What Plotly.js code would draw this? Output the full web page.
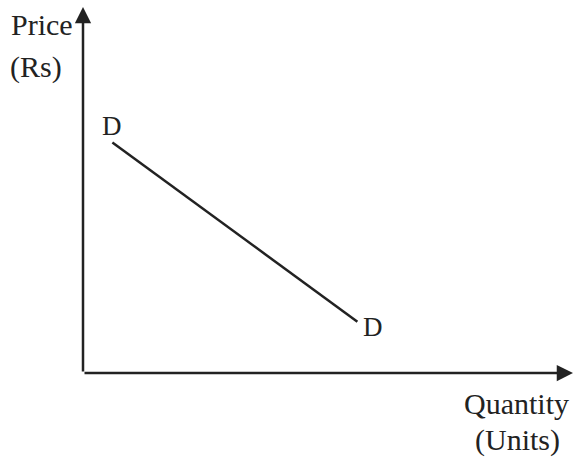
<!DOCTYPE html>
<html>
<head>
<meta charset="utf-8">
<script src="https://cdn.plot.ly/plotly-3.0.1.min.js"></script>
<style>
  html, body { margin: 0; padding: 0; background: #fff; }
  #plot { width: 575px; height: 458px; }
</style>
</head>
<body>
<div id="plot"></div>
<script>
// demand curve end points (quantity, price)
const quantity = [0.6, 5.6];
const price = [6.3, 1.4];
const curveLabels = ['D', 'D'];

const ink = '#222';
const serif = 'Liberation Serif, Times New Roman, serif';

const demand = {
    x: quantity,
    y: price,
    mode: 'lines',
    line: { color: ink, width: 2.5 },
    hoverinfo: 'skip',
    showlegend: false
};

function label(x, y, text, size) {
    return { xref: 'paper', yref: 'paper', x: x, y: y, text: text, showarrow: false,
             xanchor: 'center', yanchor: 'middle',
             font: { family: serif, size: size, color: ink } };
}

const annotations = [
    // axes with arrow heads
    { x: 0, y: 10, ax: 0, ay: 0, xref: 'x', yref: 'y', axref: 'x', ayref: 'y',
      showarrow: true, arrowhead: 2, arrowsize: 1.3, arrowwidth: 2.5, arrowcolor: ink, standoff: 0, text: '' },
    { x: 10, y: 0, ax: 0, ay: 0, xref: 'x', yref: 'y', axref: 'x', ayref: 'y',
      showarrow: true, arrowhead: 2, arrowsize: 1.3, arrowwidth: 2.5, arrowcolor: ink, standoff: 0, text: '' },
    // curve labels
    { x: quantity[0], y: price[0], text: curveLabels[0], showarrow: false, yshift: 16, xshift: 0,
      xanchor: 'center', yanchor: 'middle', font: { family: serif, size: 27, color: ink } },
    { x: quantity[1], y: price[1], text: curveLabels[1], showarrow: false, xshift: 16, yshift: -5,
      xanchor: 'center', yanchor: 'middle', font: { family: serif, size: 27, color: ink } },
    // axis titles
    label(-0.084, 0.951, 'Price', 30),
    label(-0.096, 0.836, '(Rs)', 30),
    label(0.884, -0.082, 'Quantity', 30),
    label(0.886, -0.183, '(Units)', 30)
];

const layout = {
    width: 575,
    height: 458,
    margin: { l: 83, r: 2, t: 7, b: 85 },
    paper_bgcolor: '#fff',
    plot_bgcolor: '#fff',
    xaxis: { range: [0, 10], visible: false, fixedrange: true },
    yaxis: { range: [0, 10], visible: false, fixedrange: true },
    annotations: annotations,
    showlegend: false
};

Plotly.newPlot('plot', [demand], layout, { displayModeBar: false, staticPlot: true });
</script>
</body>
</html>
